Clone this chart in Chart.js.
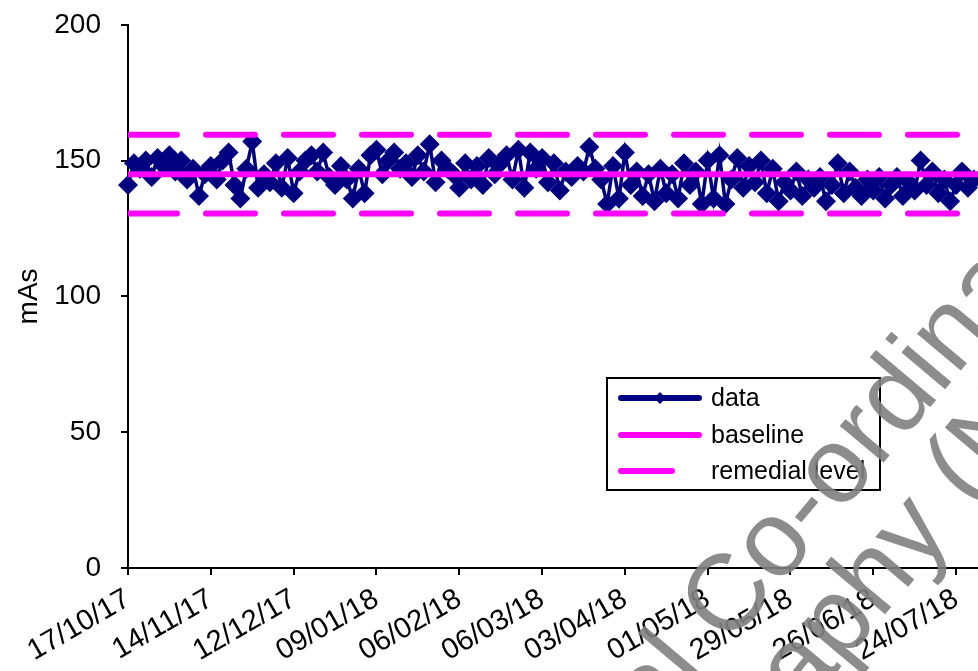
<!DOCTYPE html>
<html>
<head>
<meta charset="utf-8">
<script src="https://cdn.jsdelivr.net/npm/chart.js@4.4.1/dist/chart.umd.min.js"></script>
<style>
html,body{margin:0;padding:0;background:#fff;overflow:hidden}
#wrap{width:978px;height:671px;overflow:hidden}
#chart{display:block;margin-top:-12px}
</style>
</head>
<body>
<div id="wrap"><canvas id="chart" width="988" height="683"></canvas></div>
<script>
// x axis: days since 17/10/17
const tickDays=[0,28,56,84,112,140,168,196,224,252,280];
const tickLabels=["17/10/17","14/11/17","12/12/17","09/01/18","06/02/18","06/03/18","03/04/18","01/05/18","29/05/18","26/06/18","24/07/18"];

const dayOffsets=[0,2,4,6,8,10,12,14,16,18,
20,22,24,26,28,30,32,34,36,38,
40,42,44,46,48,50,52,54,56,58,
60,62,64,66,68,70,72,74,76,78,
80,82,84,86,88,90,92,94,96,98,
100,102,104,106,108,110,112,114,116,118,
120,122,124,126,128,130,132,134,136,138,
140,142,144,146,148,150,152,154,156,158,
160,162,164,166,168,170,172,174,176,178,
180,182,184,186,188,190,192,194,196,198,
200,202,204,206,208,210,212,214,216,218,
220,222,224,226,228,230,232,234,236,238,
240,242,244,246,248,250,252,254,256,258,
260,262,264,266,268,270,272,274,276,278,
280,282,284,286];

const mAs=[141,149,147,150,144,151,148,152,146,150,
143,147,137,145,148,143,150,153,141,136,
147,157,140,145,142,149,140,151,138,146,
150,152,146,153,144,141,148,143,136,147,
138,152,154,145,150,153,147,149,144,152,
146,156,142,150,147,145,140,149,143,148,
141,151,145,149,152,143,154,140,153,147,
151,142,149,139,146,144,148,146,155,147,
143,134,148,136,153,141,146,137,145,135,
147,138,145,136,149,141,146,134,150,136,
152,134,143,151,140,148,142,150,138,147,
135,142,139,146,137,143,140,144,135,141,
149,138,146,140,137,143,139,144,136,141,
144,137,142,139,150,141,146,138,143,135,
141,146,140,143];

const baselineValue=145;
const remedialLow=130.5;
const remedialHigh=159.5;
const xMax=287.4;

const seriesNames=["data","baseline","remedial level"];
const navy="#000080";
const magenta="#ff00ff";
const font="'Liberation Sans', Arial, sans-serif";
const OY=12; // canvas is shifted up by this much in the page

const points=mAs.map((v,i)=>({x:dayOffsets[i],y:v}));
const flat=v=>[{x:0,y:v},{x:xMax,y:v}];

const legendBox={
id:"legendBox",
afterDraw(chart){
const ctx=chart.ctx;
ctx.save();
ctx.translate(0,OY);
ctx.fillStyle="#fff";
ctx.fillRect(607,378,273,112);
ctx.strokeStyle="#000";
ctx.lineWidth=2;
ctx.strokeRect(607,378,273,112);
const rows=[398,435,471];
ctx.lineCap="round";
// data
ctx.strokeStyle=navy;ctx.lineWidth=6;
ctx.beginPath();ctx.moveTo(621,rows[0]);ctx.lineTo(699,rows[0]);ctx.stroke();
ctx.fillStyle=navy;
ctx.beginPath();ctx.moveTo(660,rows[0]-6);ctx.lineTo(666,rows[0]);ctx.lineTo(660,rows[0]+6);ctx.lineTo(654,rows[0]);ctx.closePath();ctx.fill();
// baseline
ctx.strokeStyle=magenta;
ctx.beginPath();ctx.moveTo(621,rows[1]);ctx.lineTo(699,rows[1]);ctx.stroke();
// remedial
ctx.beginPath();ctx.moveTo(621,rows[2]);ctx.lineTo(672,rows[2]);ctx.stroke();
ctx.fillStyle="#000";
ctx.font="25px "+font;
ctx.textBaseline="middle";
seriesNames.forEach((n,i)=>ctx.fillText(n,711,rows[i]+1));
ctx.restore();
}
};

const watermark={
id:"watermark",
afterDraw(chart){
const ctx=chart.ctx;
ctx.save();
ctx.translate(0,OY);
ctx.fillStyle="rgba(128,128,128,0.9)";
ctx.font="108px "+font;
ctx.textBaseline="alphabetic";
const ang=-50*Math.PI/180;
ctx.save();
ctx.translate(655,735);ctx.rotate(ang);
ctx.fillText("National Co-ordinating Centre",-ctx.measureText("Nation").width,0);
ctx.restore();
ctx.save();
ctx.translate(803,712);ctx.rotate(ang);
ctx.fillText("for the Physics of Mammography (NCCPM)",-ctx.measureText("for the Physics of Mammogr").width,0);
ctx.restore();
ctx.restore();
}
};

new Chart(document.getElementById("chart"),{
type:"line",
data:{
datasets:[
{label:seriesNames[0],data:points,borderColor:navy,backgroundColor:navy,borderWidth:3.5,
pointStyle:"rectRot",pointRadius:10,pointBorderWidth:0,pointBackgroundColor:navy,tension:0,clip:false,order:3},
{label:seriesNames[1],data:flat(baselineValue),borderColor:magenta,borderWidth:6,pointRadius:0,order:1},
{label:seriesNames[2],data:flat(remedialHigh),borderColor:magenta,borderWidth:6,borderDash:[49,29],borderCapStyle:"round",pointRadius:0,order:2},
{label:seriesNames[2]+" low",data:flat(remedialLow),borderColor:magenta,borderWidth:6,borderDash:[49,29],borderCapStyle:"round",pointRadius:0,order:2}
]
},
options:{
responsive:false,
animation:false,
events:[],
layout:{padding:{top:12,right:0,bottom:0,left:0}},
plugins:{legend:{display:false},tooltip:{enabled:false}},
scales:{
x:{
type:"linear",min:0,max:xMax,
afterBuildTicks(s){s.ticks=tickDays.map(v=>({value:v}));},
afterFit(s){s.height=103;},
ticks:{
autoSkip:false,minRotation:30,maxRotation:30,padding:7,color:"#000",
font:{family:font,size:29},
callback:(v)=>tickLabels[tickDays.indexOf(v)]
},
grid:{drawOnChartArea:false,drawTicks:true,tickLength:7,color:"#000",lineWidth:2},
border:{display:true,color:"#000",width:2}
},
y:{
min:0,max:200,
afterFit(s){s.width=128;},
ticks:{stepSize:50,padding:20,color:"#000",font:{family:font,size:28}},
grid:{drawOnChartArea:false,drawTicks:true,tickLength:7,color:"#000",lineWidth:2},
border:{display:true,color:"#000",width:2},
title:{display:true,text:"mAs",color:"#000",font:{family:font,size:28},padding:{top:12,bottom:0}}
}
}
},
plugins:[legendBox,watermark]
});
</script>
</body>
</html>
